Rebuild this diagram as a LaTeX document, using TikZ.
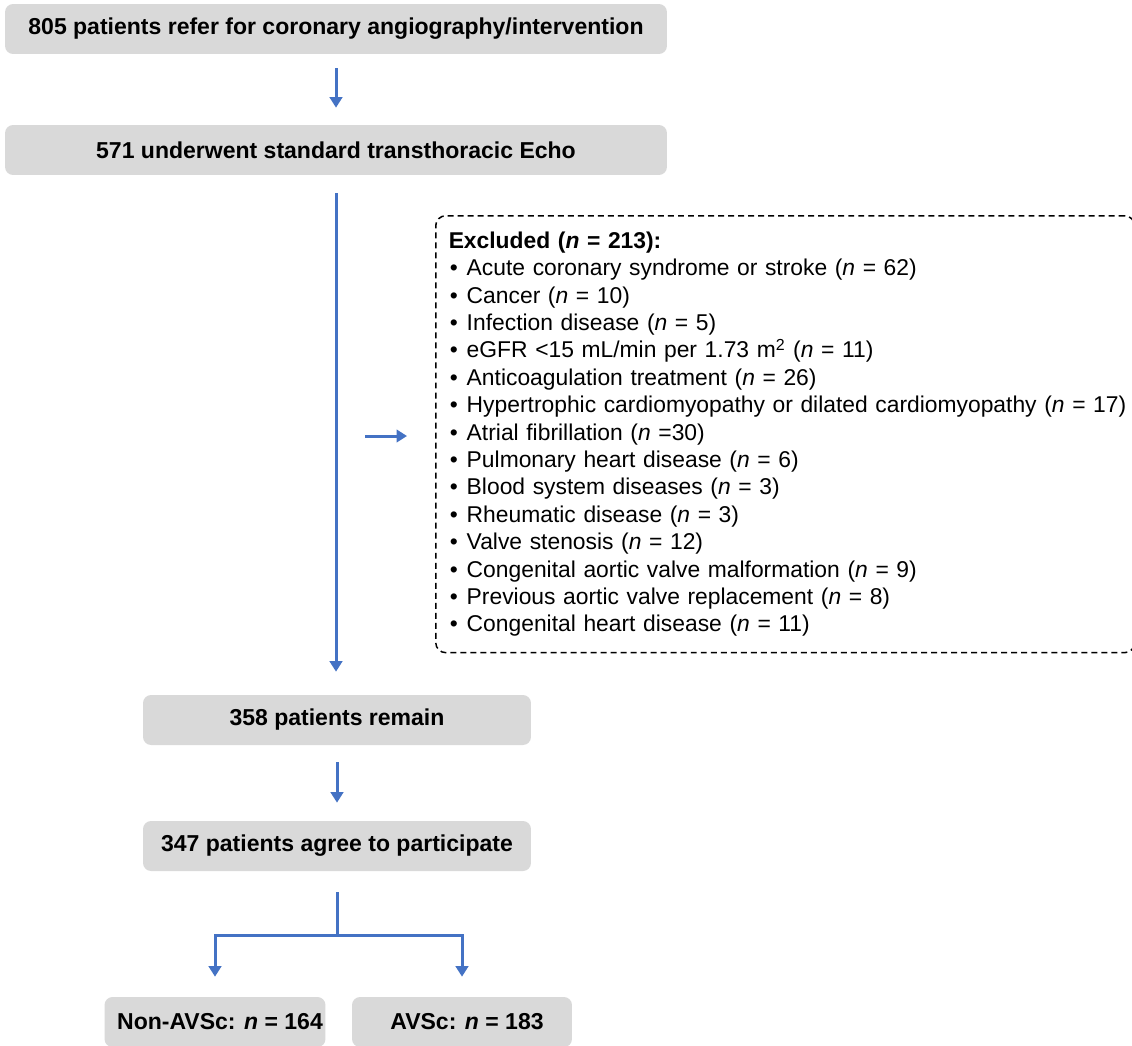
\documentclass[tikz,border=0pt]{standalone}
\usepackage{fontspec}
\setmainfont{Liberation Sans}
\usetikzlibrary{arrows.meta}
\definecolor{FCBlue}{HTML}{4472C4}
\definecolor{FCGray}{HTML}{D9D9D9}
\tikzset{
  stagebox/.style={fill=FCGray,rounded corners=0.16cm,inner sep=0pt,minimum height=1cm,
    font=\fontsize{13.1}{15}\selectfont\bfseries},
  exclbox/.style={draw=black,line width=0.03cm,dash pattern=on 3.4pt off 2.3pt,rounded corners=0.2cm,
    inner xsep=0.26cm,inner ysep=0pt,align=left,text width=13.46cm,minimum height=8.74cm,
    font=\fontsize{13}{15.6}\selectfont},
  flowarrow/.style={FCBlue,line width=0.06cm,-{Triangle[width=0.25cm,length=0.21cm]}},
  flowline/.style={FCBlue,line width=0.06cm},
}
\newcommand{\exclitem}[1]{\mbox{\makebox[0.36cm][l]{\hspace{0.02cm}\textbullet}#1}}

\begin{document}
\begin{tikzpicture}[x=0.02cm,y=-0.02cm]
\path[use as bounding box] (0,0) rectangle (1132,1045);
\fill[white] (0,0) rectangle (1132,1045);
\node[stagebox,minimum width=13.24cm] (refer) at (336,29) {805 patients refer for coronary angiography/intervention};
\node[stagebox,minimum width=13.24cm] (echo) at (336,150) {571 underwent standard transthoracic Echo};
\node[exclbox,anchor=north west] (excl) at (435,215) {%
\textbf{Excluded (\textit{n} = 213):}\\
\exclitem{Acute coronary syndrome or stroke (\textit{n} = 62)}\\
\exclitem{Cancer (\textit{n} = 10)}\\
\exclitem{Infection disease (\textit{n} = 5)}\\
\exclitem{eGFR <15 mL/min per 1.73 m\textsuperscript{2} (\textit{n} = 11)}\\
\exclitem{Anticoagulation treatment (\textit{n} = 26)}\\
\exclitem{Hypertrophic cardiomyopathy or dilated cardiomyopathy (\textit{n} = 17)}\\
\exclitem{Atrial fibrillation (\textit{n} =30)}\\
\exclitem{Pulmonary heart disease (\textit{n} = 6)}\\
\exclitem{Blood system diseases (\textit{n} = 3)}\\
\exclitem{Rheumatic disease (\textit{n} = 3)}\\
\exclitem{Valve stenosis (\textit{n} = 12)}\\
\exclitem{Congenital aortic valve malformation (\textit{n} = 9)}\\
\exclitem{Previous aortic valve replacement (\textit{n} = 8)}\\
\exclitem{Congenital heart disease (\textit{n} = 11)}};
\node[stagebox,minimum width=7.76cm] (remain) at (337,720) {358 patients remain};
\node[stagebox,minimum width=7.76cm] (agree) at (337,846) {347 patients agree to participate};
\node[stagebox,minimum width=4.42cm] (nonavsc) at (215,1022) {\hspace{0.2cm}Non-AVSc: \textit{n} = 164};
\node[stagebox,minimum width=4.40cm] (avsc) at (462,1022) {\hspace{0.2cm}AVSc: \textit{n} = 183};
\coordinate (exclin) at (365,436);
\coordinate (split) at (337,935);
\draw[flowarrow,shorten <=0.28cm,shorten >=0.34cm] (refer.south) -- (echo.north);
\draw[flowarrow,shorten <=0.36cm,shorten >=0.46cm] (echo.south) -- (echo.south |- remain.north);
\draw[flowarrow,shorten >=0.56cm] (exclin) -- (exclin -| excl.west);
\draw[flowarrow,shorten <=0.34cm,shorten >=0.36cm] (remain.south) -- (agree.north);
\draw[flowline,shorten <=0.42cm] (agree.south) -- (split);
\draw[flowarrow,shorten >=0.4cm] (split) -| (nonavsc.north);
\draw[flowarrow,shorten >=0.4cm] (split) -| (avsc.north);
\end{tikzpicture}
\end{document}
